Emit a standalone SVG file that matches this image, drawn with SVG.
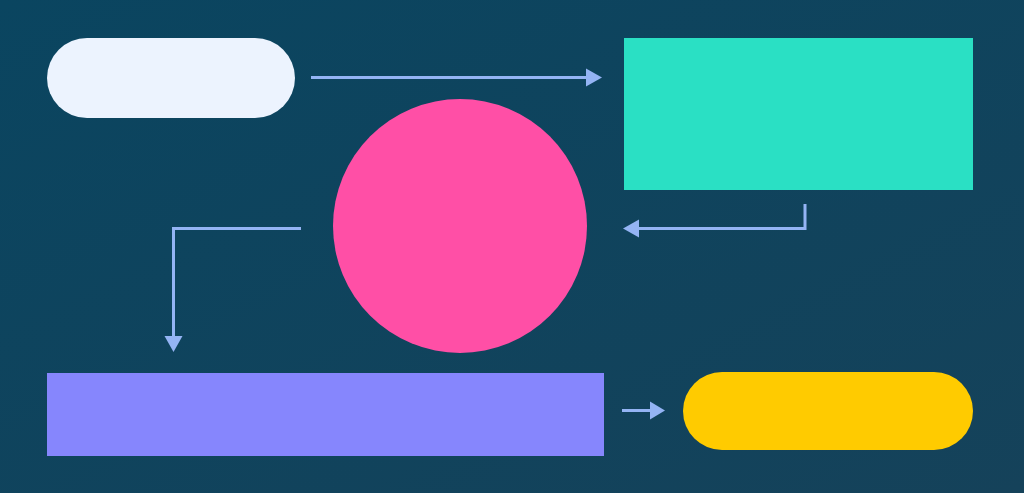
<svg xmlns="http://www.w3.org/2000/svg" width="1024" height="493" viewBox="0 0 1024 493">
  <style>
    .conn { fill: none; stroke: #94b4f4; stroke-width: 3; }
    .head { fill: #94b4f4; }
  </style>
  <defs>
    <linearGradient id="bg" x1="0" y1="0" x2="1" y2="1">
      <stop offset="0" stop-color="#0a4560"/>
      <stop offset="1" stop-color="#15425a"/>
    </linearGradient>
  </defs>
  <rect x="0" y="0" width="1024" height="493" fill="url(#bg)"/>
  <g id="connectors">
    <path class="conn" d="M311 77.5 H588"/>
    <polygon class="head" points="602,77.5 586,68.5 586,86.5"/>
    <path class="conn" d="M805 204 V228.5 H637"/>
    <polygon class="head" points="623,228.5 639,219.5 639,237.5"/>
    <path class="conn" d="M301 228.5 H173.5 V338"/>
    <polygon class="head" points="173.5,352 164.5,336 182.5,336"/>
    <path class="conn" d="M622 410.5 H652"/>
    <polygon class="head" points="665,410.5 650,401.5 650,419.5"/>
  </g>
  <g id="start">
    <rect x="47" y="38" width="248" height="80" rx="40" fill="#ecf3fe"/>
  </g>
  <g id="process-teal">
    <rect x="624" y="38" width="349" height="152" fill="#2ae0c4"/>
  </g>
  <g id="circle-pink">
    <circle cx="460" cy="226" r="127" fill="#ff4fa6"/>
  </g>
  <g id="process-purple">
    <rect x="47" y="373" width="557" height="83" fill="#8686fd"/>
  </g>
  <g id="end">
    <rect x="683" y="372" width="290" height="78" rx="39" fill="#ffcb00"/>
  </g>
</svg>
